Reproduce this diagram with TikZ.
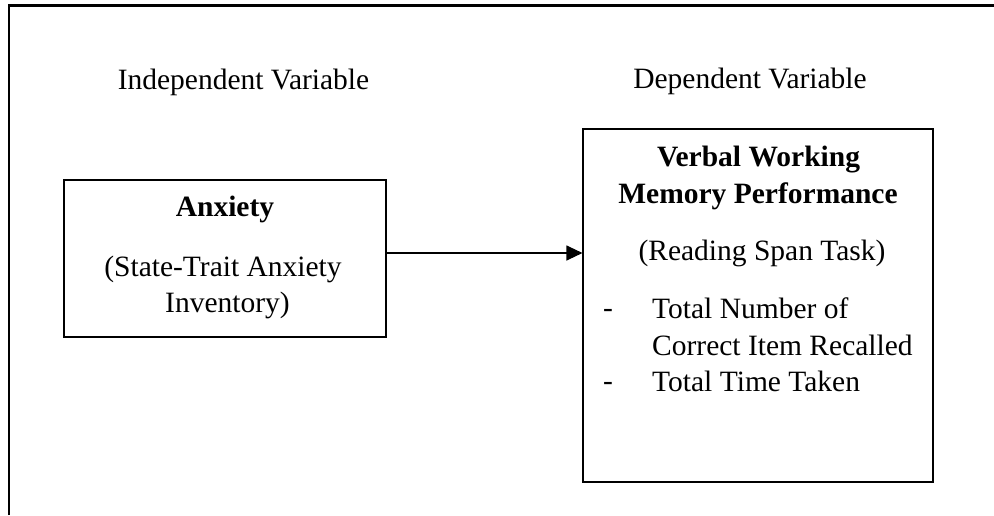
\documentclass[tikz,border=0pt]{standalone}
\usepackage{fontspec}
\setmainfont{Liberation Serif}
\usetikzlibrary{arrows.meta}

\definecolor{ink}{rgb}{0, 0, 0}

\tikzset{
  txt/.style={anchor=base,inner sep=0pt,font=\fontsize{29.5}{36.7}\selectfont},
  txtb/.style={txt,font=\fontsize{29.5}{36.7}\selectfont\bfseries},
  varbox/.style={draw=ink,line width=1.1pt,inner sep=0pt},
  link/.style={draw=ink,line width=1.1pt,-{Triangle[length=16pt,width=15pt]}}
}

\begin{document}
\begin{tikzpicture}[x=1pt,y=-1pt]

        \useasboundingbox (0,0) rectangle (994,515);
        %\draw [help lines,step=50] (0,0) grid (994,515);

        % frame (top and left edge only)
        \draw [ink,line width=2.4pt] (8.7,515) -- (8.7,5.4) -- (994,5.4);

        \node[txt] (ivlabel) at (243.5,89) {Independent Variable};
        \node[txt] (dvlabel) at (750,88) {Dependent Variable};

        \node[varbox,minimum width=322pt,minimum height=157pt] (iv) at (225,258.5) {};
        \node[varbox,minimum width=350pt,minimum height=353pt] (dv) at (758,305.5) {};

        \node[txtb] (ivname) at (225,216.7) {Anxiety};
        \node[txt] (ivtool) at (223,276.5) {(State-Trait Anxiety};
        \node[txt] (ivtoolb) at (227.5,312) {Inventory)};

        \node[txtb] (dvname) at (758.5,166.7) {Verbal Working};
        \node[txtb] (dvnameb) at (758,203.3) {Memory Performance};
        \node[txt] (dvtool) at (762,260) {(Reading Span Task)};

        \node[txt,anchor=base west] (dash1) at (603,317) {-};
        \node[txt,anchor=base west] (item1) at (652,318.3) {Total Number of};
        \node[txt,anchor=base west] (item1b) at (652,355) {Correct Item Recalled};
        \node[txt,anchor=base west] (dash2) at (603,390.5) {-};
        \node[txt,anchor=base west] (item2) at (652,391.7) {Total Time Taken};

        \draw [link] ([yshift=5.5pt]iv.east) -- ([yshift=5.5pt]iv.east -| dv.west);

\end{tikzpicture}
\end{document}
